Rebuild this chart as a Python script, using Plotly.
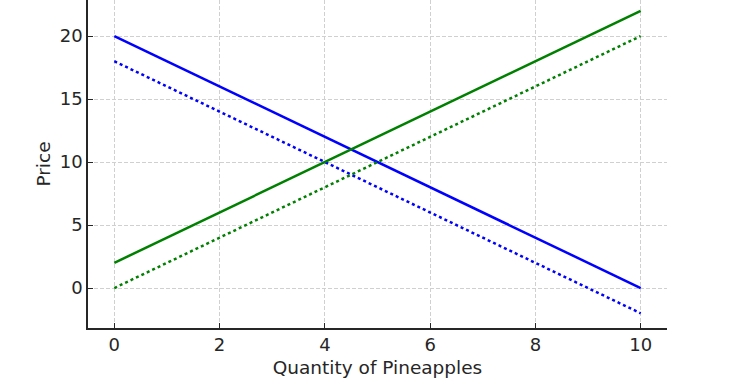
import plotly.graph_objects as go

quantity = [0, 10]
demand = [20, 0]
demand_shifted = [18, -2]
supply = [2, 22]
supply_shifted = [0, 20]

fig = go.Figure()
fig.add_trace(go.Scatter(x=quantity, y=demand, mode="lines", line=dict(color="blue", width=2.5), name="Demand"))
fig.add_trace(go.Scatter(x=quantity, y=demand_shifted, mode="lines", line=dict(color="blue", width=2.5, dash="dot"), name="Demand (shifted)"))
fig.add_trace(go.Scatter(x=quantity, y=supply, mode="lines", line=dict(color="green", width=2.5), name="Supply"))
fig.add_trace(go.Scatter(x=quantity, y=supply_shifted, mode="lines", line=dict(color="green", width=2.5, dash="dot"), name="Supply (shifted)"))

tick_font = dict(family="DejaVu Sans", size=18, color="#262626")
title_font = dict(family="DejaVu Sans", size=18.5, color="#262626")
fig.update_layout(
    width=756, height=388,
    margin=dict(l=88, r=89, t=0, b=60),
    plot_bgcolor="white", paper_bgcolor="white",
    showlegend=False,
    font=tick_font,
)
fig.update_xaxes(
    range=[-0.5, 10.5], tickvals=[0, 2, 4, 6, 8, 10], tickfont=tick_font,
    showline=True, linecolor="#262626", linewidth=1.5,
    ticks="inside", ticklen=5, tickcolor="#262626", tickwidth=1.2,
    showgrid=True, gridcolor="#d0d0d0", griddash="4px,2px", gridwidth=1,
    zeroline=False,
    title=dict(text="Quantity of Pineapples", font=title_font, standoff=7),
)
fig.update_yaxes(
    range=[-3.17, 22.86], tickvals=[0, 5, 10, 15, 20], tickfont=tick_font,
    showline=True, linecolor="#262626", linewidth=1.5,
    ticks="inside", ticklen=5, tickcolor="#262626", tickwidth=1.2,
    showgrid=True, gridcolor="#d0d0d0", griddash="4px,2px", gridwidth=1,
    zeroline=False,
    title=dict(text="Price", font=title_font, standoff=4),
)
fig.write_html("out.html", config={"displayModeBar": False},
               post_script="document.body.style.margin='0';")
